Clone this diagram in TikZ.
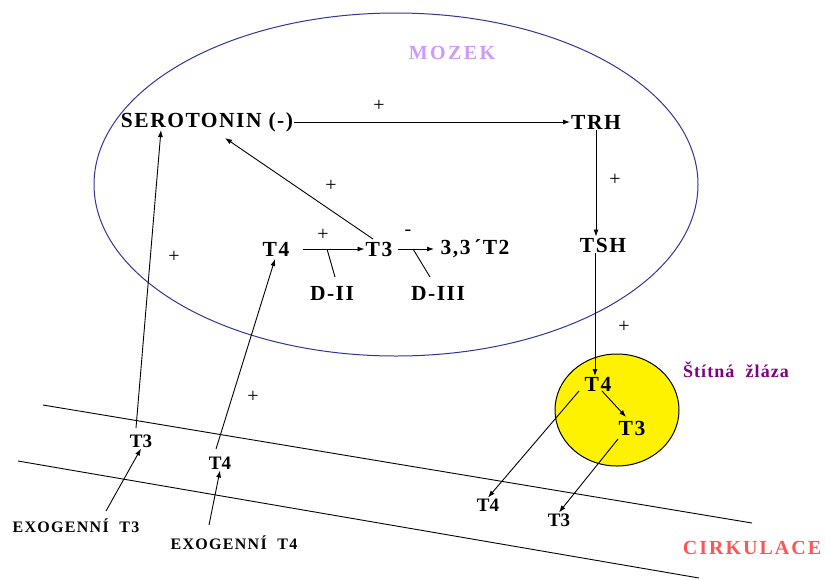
\documentclass[tikz,border=0pt]{standalone}
\usepackage{fontspec}
\setmainfont{Liberation Serif}
\usetikzlibrary{arrows.meta}
\definecolor{navy}{RGB}{51,51,153}
\definecolor{mozek}{RGB}{204,153,255}
\definecolor{stit}{RGB}{128,0,128}
\definecolor{cirk}{RGB}{255,85,85}
\begin{document}
\begin{tikzpicture}[x=1pt,y=-1pt,
  lbl/.style={font=\fontsize{21.5}{24}\selectfont\bfseries\addfontfeature{LetterSpace=7}, inner sep=1pt},
  mid/.style={font=\fontsize{19}{22}\selectfont\bfseries, inner sep=1pt},
  small/.style={font=\fontsize{16}{18}\selectfont\bfseries\addfontfeature{LetterSpace=8}, inner sep=1pt},
  sgn/.style={font=\fontsize{20}{22}\selectfont, inner sep=0pt},
  arr/.style={-{Latex[length=7pt,width=5pt]}, line width=0.9pt},
  ln/.style={line width=0.9pt}]
\useasboundingbox (0,0) rectangle (825,579);
% brain ellipse
\draw[navy, line width=1pt] (396,184.5) ellipse [x radius=302, y radius=171.5];
% thyroid
\draw[fill=yellow, line width=1pt] (617,410) ellipse [x radius=62, y radius=56];
% circulation lines
\coordinate (ua) at (43,405); \coordinate (ub) at (752,523);
\coordinate (la) at (18,461); \coordinate (lb) at (699,578);
\draw[ln] (ua) -- (ub);
\draw[ln] (la) -- (lb);
% labels
\node[font=\fontsize{20}{22}\selectfont\bfseries\addfontfeature{LetterSpace=12}, text=mozek] (mozek) at (452,53) {MOZEK};
\node[lbl] (ser) at (207,122) {SEROTONIN (-)};
\node[lbl] (trh) at (596,122) {TRH};
\node[lbl] (tsh) at (603,245) {TSH};
\node[lbl] (t4i) at (276,249) {T4};
\node[lbl] (t3i) at (379,249) {T3};
\node[lbl] (t2) at (475,249) {3,3\,´T2};
\node[lbl] (d2) at (332,293) {D-II};
\node[lbl] (d3) at (438,293) {D-III};
\node[lbl] (t4g) at (598,384) {T4};
\node[lbl] (t3g) at (632,428) {T3};
\node[font=\fontsize{18}{20}\selectfont\bfseries\addfontfeature{LetterSpace=6}, text=stit] (stit) at (736,370) {Štítná\ \ žláza};
\node[mid] (t3c) at (141,441) {T3};
\node[mid] (t4c) at (220,463) {T4};
\node[small] (ex3) at (76,526) {EXOGENNÍ\ \ T3};
\node[small] (ex4) at (234,543) {EXOGENNÍ\ \ T4};
\node[mid] (t4o) at (488,505) {T4};
\node[mid] (t3o) at (559,520) {T3};
\node[font=\fontsize{20}{22}\selectfont\bfseries\addfontfeature{LetterSpace=10}, text=cirk] (cirk) at (752,548) {CIRKULACE};
% signs
\node[sgn] (p1) at (379,106) {+};
\node[sgn] (p2) at (615,180) {+};
\node[sgn] (p3) at (331,186) {+};
\node[sgn] (p4) at (174,257) {+};
\node[sgn] (p5) at (323,235) {+};
\node[sgn] (m1) at (408,233) {-};
\node[sgn] (p6) at (624,327) {+};
\node[sgn] (p7) at (253,397) {+};
% arrows
\draw[arr] (ser.east) -- (trh.west);
\draw[arr] (trh.south) -- (tsh.north -| trh.south);
\draw[arr] (tsh.south -| 595,0) -- (595,376);
\draw[arr] (373,239) -- (225,138);
\coordinate (a1) at (303,249);
\draw[arr] (a1) -- (t3i.west);
\coordinate (j1) at (327,249);
\draw[ln] (335,277) -- (j1);
\coordinate (a2) at (398,249);
\draw[arr] (a2) -- (434,249);
\coordinate (j2) at (413,249);
\draw[ln] (430,277) -- (j2);
\draw[arr] (136,428) -- (161,130);
\draw[arr] (216,449) -- (275,259);
\draw[arr] (106,511) -- (t3c.south);
\draw[arr] (209,525) -- (t4c.south);
\draw[arr] (602,391) -- (626,417);
\draw[arr] (579,391) -- (t4o.north);
\draw[arr] (618,439) -- (t3o.north);
\end{tikzpicture}
\end{document}
